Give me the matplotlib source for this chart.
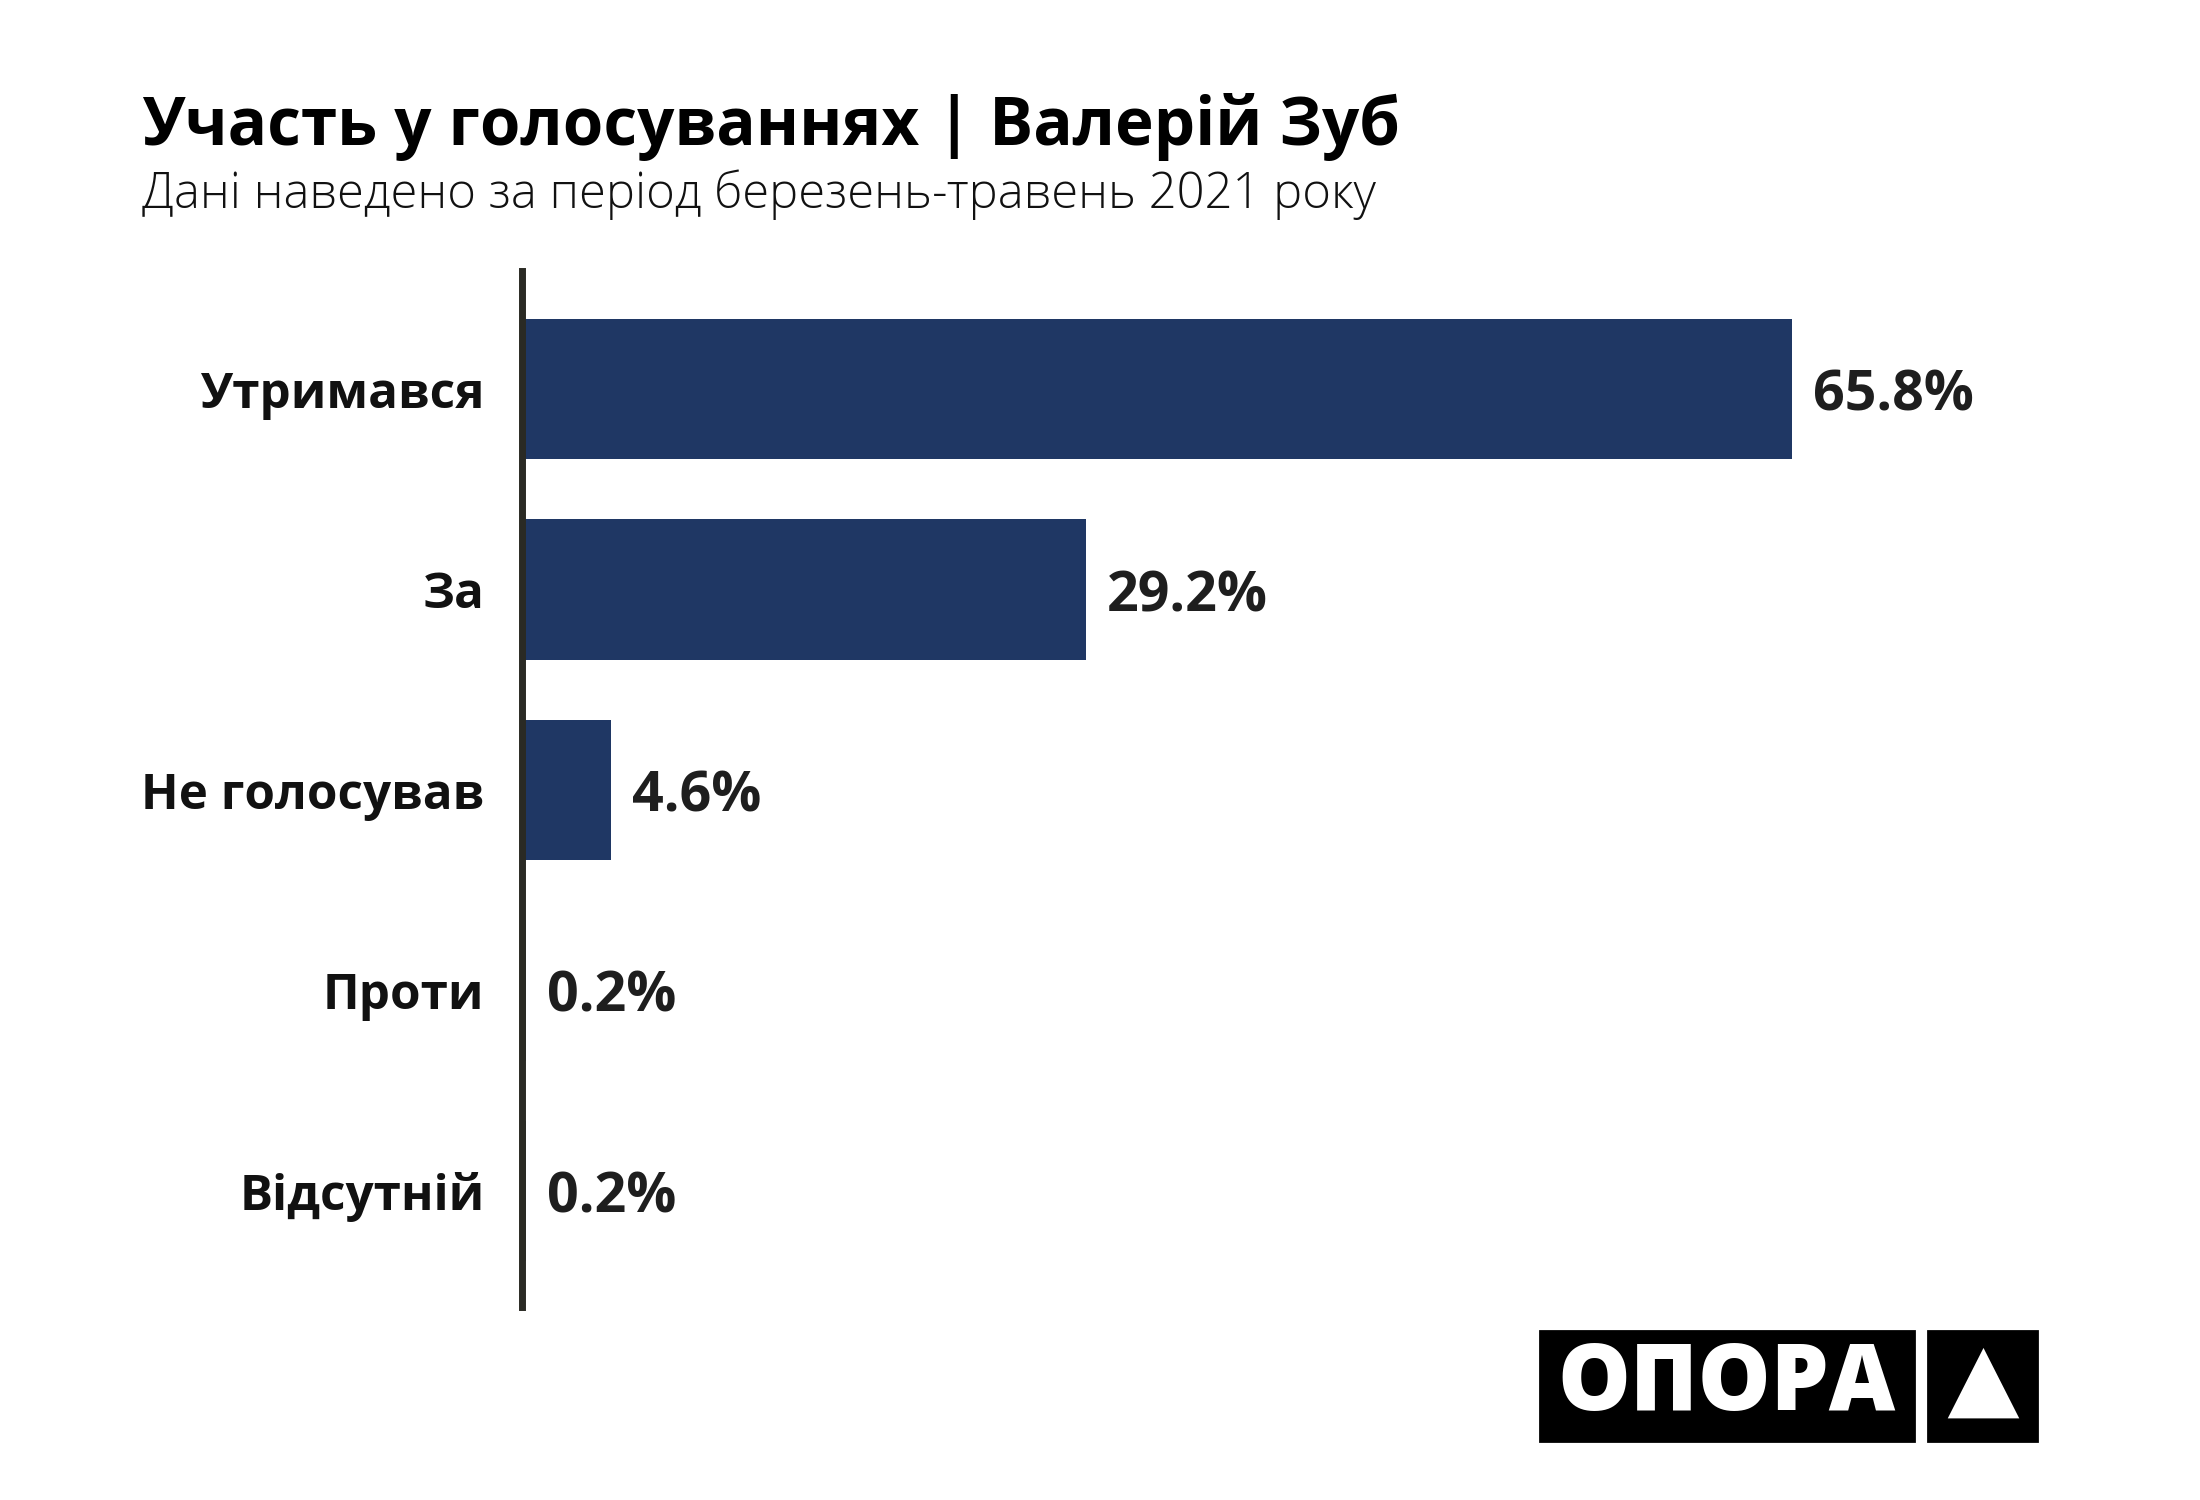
import matplotlib
matplotlib.use("Agg")
import matplotlib.pyplot as plt
from matplotlib.patches import Rectangle, Polygon

categories = ["Утримався", "За", "Не голосував", "Проти", "Відсутній"]
values = [65.8, 29.2, 4.6, 0.2, 0.2]
value_labels = ["65.8%", "29.2%", "4.6%", "0.2%", "0.2%"]

title = "Участь у голосуваннях | Валерій Зуб"
subtitle = "Дані наведено за період березень-травень 2021 року"

plt.rcParams['font.family'] = ['Open Sans', 'Noto Sans', 'DejaVu Sans']

W, H = 2200, 1500
fig = plt.figure(figsize=(11, 7.5), dpi=200)
fig.patch.set_facecolor("white")

ax = fig.add_axes([522 / W, 1 - 1307 / H, 1544 / W, (1307 - 271) / H])
y = list(range(len(categories)))
ax.barh(y, values, height=0.70, color="#1f3764", zorder=2)
ax.set_xlim(0, 80)
ax.set_ylim(4.58, -0.59)
ax.set_yticks(y)
ax.set_yticklabels(categories, fontsize=17.8, fontweight="bold", color="#111111")
ax.tick_params(axis="y", length=0, pad=13.5)
ax.set_xticks([])
for s in ["top", "right", "bottom"]:
    ax.spines[s].set_visible(False)
ax.spines["left"].set_linewidth(2.5)
ax.spines["left"].set_color("#2a2a24")
ax.spines["left"].set_zorder(3)

for yi, v, lab in zip(y, values, value_labels):
    ax.annotate(lab, xy=(v, yi), xytext=(7.5, -2.5), textcoords="offset points",
                ha="left", va="center", fontsize=20, fontweight="bold",
                color="#1e1e1e")

fig.text(142 / W, 1 - 145 / H, title, fontsize=23.6, fontweight="bold",
         color="#000000", ha="left", va="baseline")
fig.text(142 / W, 1 - 208 / H, subtitle, fontsize=17.6, fontweight="light",
         color="#111111", ha="left", va="baseline")

# logo
fig.patches.append(Rectangle((1540 / W, 1 - 1441 / H), (1914 - 1540) / W, 110 / H,
                             transform=fig.transFigure, color="black"))
fig.patches.append(Rectangle((1928 / W, 1 - 1441 / H), (2037 - 1928) / W, 110 / H,
                             transform=fig.transFigure, color="black"))
fig.text((1540 + 1914) / 2 / W, 1 - 1386 / H, "ОПОРА", fontsize=33,
         fontweight="heavy", color="white", ha="center", va="center")
fig.patches.append(Polygon([(1950 / W, 1 - 1417 / H), (2017 / W, 1 - 1417 / H),
                            (1983.5 / W, 1 - 1351 / H)], closed=True,
                           transform=fig.transFigure, color="white"))

fig.savefig("out.png", dpi=200, facecolor="white")
